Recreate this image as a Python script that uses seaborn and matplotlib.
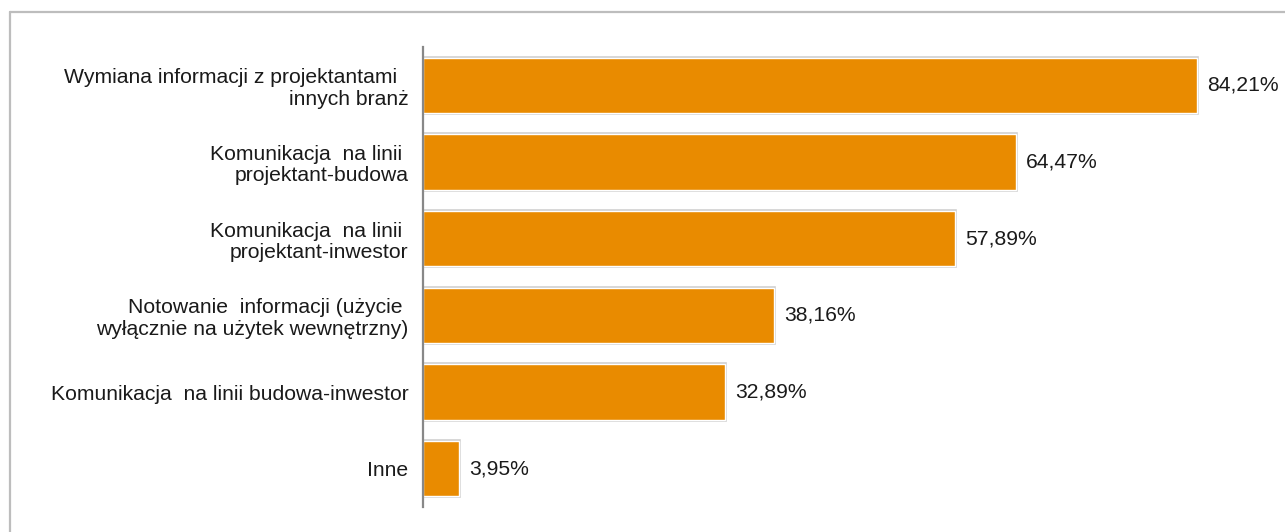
import matplotlib
matplotlib.use("Agg")
import matplotlib.pyplot as plt
import seaborn as sns
import pandas as pd

categories = [
    "Wymiana informacji z projektantami  \ninnych branż",
    "Komunikacja  na linii \nprojektant-budowa",
    "Komunikacja  na linii \nprojektant-inwestor",
    "Notowanie  informacji (użycie \nwyłącznie na użytek wewnętrzny)",
    "Komunikacja  na linii budowa-inwestor",
    "Inne",
]
shares = [84.21, 64.47, 57.89, 38.16, 32.89, 3.95]
value_labels = ["84,21%", "64,47%", "57,89%", "38,16%", "32,89%", "3,95%"]

df = pd.DataFrame({"category": categories, "share": shares})

sns.set_theme(style="white")
plt.rcParams["font.family"] = ["Liberation Sans", "DejaVu Sans"]

W, H = 1285, 532
fig = plt.figure(figsize=(W / 100, H / 100), dpi=100)
left_px, right_px, top_px, bottom_px = 423, 1280, 47, 507
ax = fig.add_axes([left_px / W, 1 - bottom_px / H,
                   (right_px - left_px) / W, (bottom_px - top_px) / H])

bar_color = "#E98B00"
text_color = "#1a1a1a"
fs = 15.2

# outer light-grey frame with an inner white rim
sns.barplot(data=df, x="share", y="category", orient="h", ax=ax,
            color=bar_color, saturation=1, width=0.72,
            edgecolor="#cfcfcf", linewidth=2.6)
sns.barplot(data=df, x="share", y="category", orient="h", ax=ax,
            color=bar_color, saturation=1, width=0.72,
            edgecolor="white", linewidth=1.0)

px_per_unit = (1197 - 423) / 84.21
ax.set_xlim(0, (right_px - left_px) / px_per_unit)
ax.set_ylim(len(categories) - 0.5, -0.5)

for i, (v, lab) in enumerate(zip(shares, value_labels)):
    ax.text(v + 10 / px_per_unit, i, lab, va="center", ha="left",
            fontsize=fs, color=text_color, clip_on=False)

ax.set_xlabel("")
ax.set_ylabel("")
ax.set_xticks([])
ax.tick_params(axis="y", length=0, pad=10.5, labelsize=fs, labelcolor=text_color)
for lbl in ax.get_yticklabels():
    lbl.set_horizontalalignment("right")
    lbl.set_multialignment("right")
    lbl.set_linespacing(1.15)

for side in ["top", "right", "bottom"]:
    ax.spines[side].set_visible(False)
ax.spines["left"].set_color("#888888")
ax.spines["left"].set_linewidth(1.6)

# outer chart frame (top and left edges)
fig.add_artist(plt.Line2D([9.5 / W, 9.5 / W], [0, 1 - 11.5 / H],
                          transform=fig.transFigure, color="#bdbdbd", lw=1.6))
fig.add_artist(plt.Line2D([9.5 / W, 1], [1 - 11.5 / H, 1 - 11.5 / H],
                          transform=fig.transFigure, color="#bdbdbd", lw=1.6))

fig.savefig("out.png", dpi=100, facecolor="white")
